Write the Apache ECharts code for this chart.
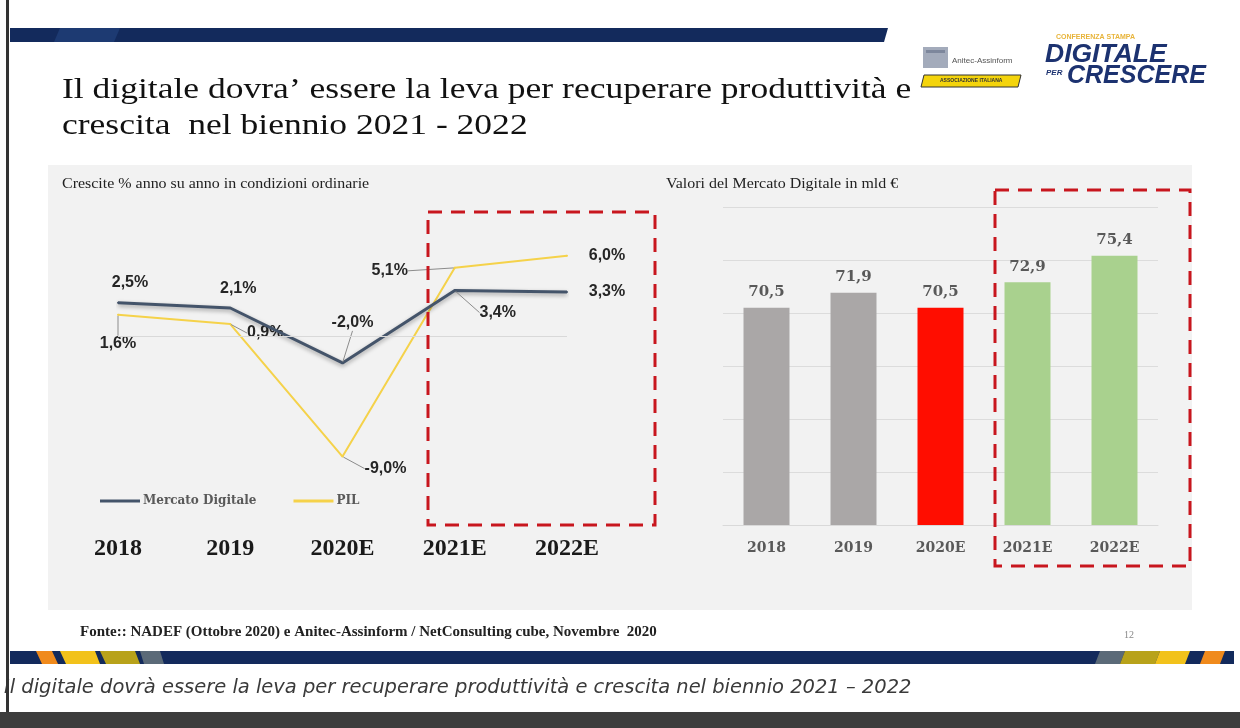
<!DOCTYPE html>
<html><head><meta charset="utf-8">
<script src="https://cdn.jsdelivr.net/npm/echarts@6/dist/echarts.min.js"></script>
<style>html,body{margin:0;padding:0;background:#fff}#c{width:1240px;height:728px}</style>
</head><body><div id="c"></div>
<script>
// ---- data ----
const years = ['2018', '2019', '2020E', '2021E', '2022E'];
const mercatoDigitaleGrowth = [2.5, 2.1, -2.0, 3.4, 3.3];
const pilGrowth = [1.6, 0.9, -9.0, 5.1, 6.0];
const marketValues = [70.5, 71.9, 70.5, 72.9, 75.4];
const barColors = ['#aaa7a7', '#aaa7a7', '#ff0d00', '#a9d18e', '#a9d18e'];
const seriesNames = ['Mercato Digitale', 'PIL'];

// label displacements (layout only)
const blueLabelShift = [[12,-20,false],[8,-19,false],[10,-40,true],[43,22,true],[40,0,false]];
const yellowLabelShift = [[0,29,true],[35,9,true],[43,12,true],[-65,3,true],[40,0,false]];

const fmt = v => v.toFixed(1).replace('.', ',');
const serif = '"Liberation Serif", "Times New Roman", serif';
const wideSerif = '"DejaVu Serif", serif';
const sans = '"Liberation Sans", Arial, sans-serif';

function lineData(vals, shifts){
  return vals.map((v,i)=>({value:v, labelLine:{show:shifts[i][2]}}));
}

const chart = echarts.init(document.getElementById('c'), null, {renderer:'canvas'});
const navy = '#132a5c';
const option = {
  backgroundColor: '#ffffff',
  animation: false,
  graphic: [
    // left border and bottom bar
    {type:'rect', shape:{x:6,y:0,width:3,height:712}, style:{fill:'#333'}, z:5},
    {type:'rect', shape:{x:0,y:712,width:1240,height:16}, style:{fill:'#3d3d3d'}, z:-5},
    // top banner
    {type:'polygon', shape:{points:[[10,28],[888,28],[884,42],[10,42]]}, style:{fill:navy}, z:-5},
    {type:'polygon', shape:{points:[[60,28],[120,28],[114,42],[54,42]]}, style:{fill:'#1d3a72'}, z:-4},
    // grey panel
    {type:'rect', shape:{x:48,y:165,width:1144,height:445}, style:{fill:'#f2f2f2'}, z:-10},
    // title
    {type:'text', x:62, y:76, scaleX:1.225, style:{x:0, y:0, text:"Il digitale dovra’ essere la leva per recuperare produttività e", font:'29px '+serif, fill:'#111'}},
    {type:'text', x:62, y:112, scaleX:1.225, style:{x:0, y:0, text:"crescita  nel biennio 2021 - 2022", font:'29px '+serif, fill:'#111'}},
    // subtitles
    {type:'text', x:62, y:177, scaleX:1.14, style:{x:0, y:0, text:'Crescite % anno su anno in condizioni ordinarie', font:'14px '+serif, fill:'#222'}},
    {type:'text', x:666, y:177, scaleX:1.14, style:{x:0, y:0, text:'Valori del Mercato Digitale in mld €', font:'14px '+serif, fill:'#222'}},
    // dashed boxes
    {type:'rect', shape:{x:428,y:212,width:227,height:313}, style:{fill:'none', stroke:'#c8161e', lineWidth:3, lineDash:[14,9]}, z:10},
    {type:'rect', shape:{x:995,y:190,width:195,height:376}, style:{fill:'none', stroke:'#c8161e', lineWidth:3, lineDash:[14,9]}, z:10},
    // footer
    {type:'text', x:80, y:625, style:{x:0, y:0, text:'Fonte:: NADEF (Ottobre 2020) e Anitec-Assinform / NetConsulting cube, Novembre  2020', font:'bold 15px '+serif, fill:'#222'}},
    {type:'text', x:1124, y:630, style:{x:0, y:0, text:'12', font:'10px '+serif, fill:'#888'}},
    // bottom banner
    {type:'polygon', shape:{points:[[10,651],[1234,651],[1234,664],[10,664]]}, style:{fill:navy}, z:-5},
    {type:'polygon', shape:{points:[[36,651],[52,651],[58,664],[42,664]]}, style:{fill:'#f08a1c'}, z:-4},
    {type:'polygon', shape:{points:[[60,651],[95,651],[100,664],[66,664]]}, style:{fill:'#f2c21b'}, z:-4},
    {type:'polygon', shape:{points:[[100,651],[135,651],[140,664],[106,664]]}, style:{fill:'#b8a21a'}, z:-4},
    {type:'polygon', shape:{points:[[140,651],[160,651],[164,664],[144,664]]}, style:{fill:'#5b6a78'}, z:-4},
    {type:'polygon', shape:{points:[[1100,651],[1125,651],[1120,664],[1095,664]]}, style:{fill:'#5b6a78'}, z:-4},
    {type:'polygon', shape:{points:[[1125,651],[1160,651],[1155,664],[1120,664]]}, style:{fill:'#b8a21a'}, z:-4},
    {type:'polygon', shape:{points:[[1160,651],[1190,651],[1185,664],[1155,664]]}, style:{fill:'#f2c21b'}, z:-4},
    {type:'polygon', shape:{points:[[1205,651],[1225,651],[1220,664],[1200,664]]}, style:{fill:'#f08a1c'}, z:-4},
    // caption
    {type:'text', x:4, y:679, scaleX:1.025, style:{x:0, y:0, text:'Il digitale dovrà essere la leva per recuperare produttività e crescita nel biennio 2021 – 2022', font:'italic 19px "DejaVu Sans", sans-serif', fill:'#3a3a3a'}},
    // Anitec-Assinform logo
    {type:'rect', shape:{x:923,y:47,width:25,height:21}, style:{fill:'#a3abbb'}},
    {type:'rect', shape:{x:926,y:50,width:19,height:3}, style:{fill:'#7d879c'}},
    {type:'text', x:952, y:57, style:{x:0, y:0, text:'Anitec-Assinform', font:'8px '+sans, fill:'#555'}},
    {type:'polygon', shape:{points:[[924,75],[1021,75],[1018,87],[921,87]]}, style:{fill:'#f4d40c', stroke:'#333', lineWidth:1}},
    {type:'text', x:940, y:78, style:{x:0, y:0, text:'ASSOCIAZIONE ITALIANA', font:'bold 5px '+sans, fill:'#333'}},
    // Digitale per Crescere logo
    {type:'text', x:1056, y:34, style:{x:0, y:0, text:'CONFERENZA STAMPA', font:'bold 7px '+sans, fill:'#e8b43a'}},
    {type:'text', x:1045, y:43, scaleX:1.06, style:{x:0, y:0, text:'DIGITALE', font:'italic 900 25px '+sans, fill:'#1c3270'}},
    {type:'text', x:1046, y:69, style:{x:0, y:0, text:'PER', font:'italic bold 8px '+sans, fill:'#1c3270'}},
    {type:'text', x:1067, y:64, style:{x:0, y:0, text:'CRESCERE', font:'italic 900 25px '+sans, fill:'#1c3270'}}
  ],
  legend: {
    left: 95, top: 490, itemWidth: 40, itemHeight: 3, itemGap: 37,
    icon: 'rect',
    data: seriesNames,
    textStyle: {fontSize: 12, fontFamily: wideSerif, fontWeight:'bold', color:'#595959', padding:[0,0,0,-2]}
  },
  grid: [
    {left: 118, right: 1240-567, top: 229, bottom: 728-470},
    {left: 723, right: 1240-1158, top: 207, bottom: 728-525}
  ],
  xAxis: [
    {type:'category', gridIndex:0, data:years, boundaryGap:false,
     axisLine:{show:false}, axisTick:{show:false},
     axisLabel:{margin:67, fontFamily:serif, fontWeight:'bold', fontSize:24, color:'#1a1a1a'}},
    {type:'category', gridIndex:1, data:years,
     axisLine:{show:true, lineStyle:{color:'#d9d9d9'}}, axisTick:{show:false},
     axisLabel:{margin:16, fontFamily:wideSerif, fontWeight:'bold', fontSize:14, color:'#595959'}}
  ],
  yAxis: [
    {type:'value', gridIndex:0, min:-10, max:8, interval:2, show:false, splitLine:{show:false}},
    {type:'value', gridIndex:1, min:50, max:80, interval:5,
     axisLabel:{show:false}, axisLine:{show:false}, axisTick:{show:false},
     splitLine:{lineStyle:{color:'#dcdcdc', width:1}}}
  ],
  series: [
    {
      name: seriesNames[0], type:'line', xAxisIndex:0, yAxisIndex:0,
      data: lineData(mercatoDigitaleGrowth, blueLabelShift),
      symbol:'circle', symbolSize:2, color:'#44546a',
      lineStyle:{width:3, color:'#44546a', shadowColor:'rgba(0,0,0,0.35)', shadowBlur:4, shadowOffsetY:2},
      label:{show:true, position:'inside', formatter:p=>fmt(p.value)+'%',
        fontFamily:sans, fontWeight:'bold', fontSize:16, color:'#262626'},
      labelLine:{lineStyle:{color:'#8c8c8c', width:1}},
      labelLayout: p => ({dx: blueLabelShift[p.dataIndex][0], dy: blueLabelShift[p.dataIndex][1]}),
      markLine:{silent:true, symbol:'none', label:{show:false},
        lineStyle:{color:'#d9d9d9', type:'solid', width:1}, data:[{yAxis:0}]},
      z: 3
    },
    {
      name: seriesNames[1], type:'line', xAxisIndex:0, yAxisIndex:0,
      data: lineData(pilGrowth, yellowLabelShift),
      symbol:'circle', symbolSize:2, color:'#f5d24a',
      lineStyle:{width:2, color:'#f5d24a'},
      label:{show:true, position:'inside', formatter:p=>fmt(p.value)+'%',
        fontFamily:sans, fontWeight:'bold', fontSize:16, color:'#262626'},
      labelLine:{lineStyle:{color:'#8c8c8c', width:1}},
      labelLayout: p => ({dx: yellowLabelShift[p.dataIndex][0], dy: yellowLabelShift[p.dataIndex][1]}),
      z: 2
    },
    {
      name: 'Valori', type:'bar', xAxisIndex:1, yAxisIndex:1,
      data: marketValues.map((v,i)=>({value:v, itemStyle:{color:barColors[i]}})),
      barWidth: 46,
      label:{show:true, position:'top', distance:8, formatter:p=>fmt(p.value),
        fontFamily:wideSerif, fontWeight:'bold', fontSize:15, color:'#595959'}
    }
  ]
};
chart.setOption(option);
</script></body></html>
